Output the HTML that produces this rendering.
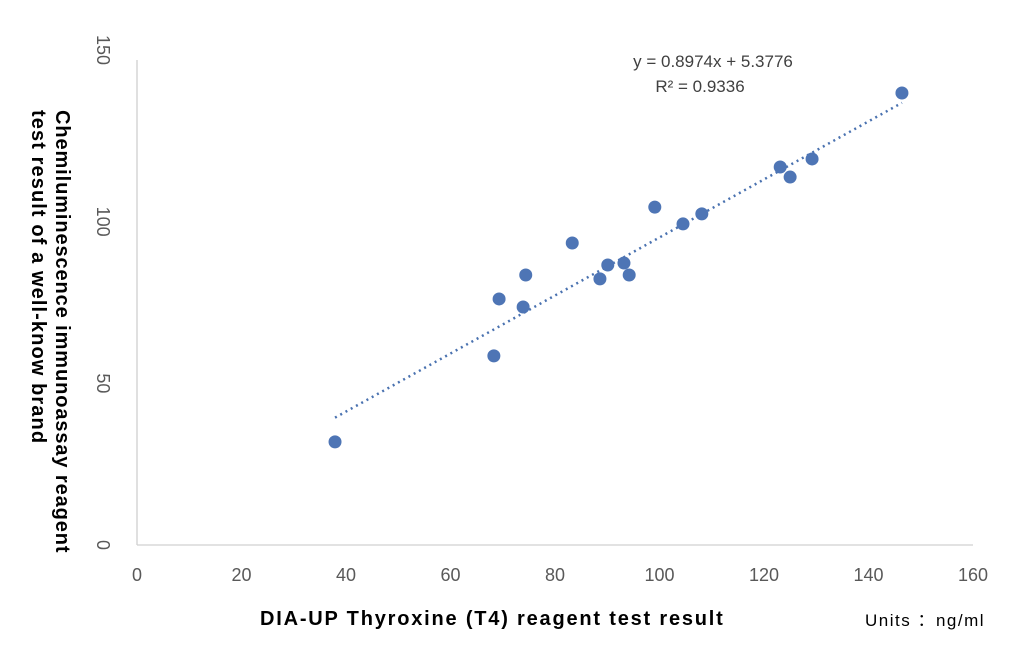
<!DOCTYPE html>
<html><head><meta charset="utf-8"><style>
body{margin:0;background:#fff;}
svg{display:block;font-family:"Liberation Sans",sans-serif;}
</style></head><body>
<svg id="chart" width="1020" height="651">
<line x1="137" y1="60" x2="137" y2="545" stroke="#d0d0d0" stroke-width="1.3"/>
<line x1="137" y1="545" x2="973" y2="545" stroke="#d0d0d0" stroke-width="1.3"/>
<g id="xticks"></g>
<g id="yticks"></g>
<path id="trend" fill="none" stroke="#4a72b0" stroke-width="2.5" stroke-dasharray="2,4"/>
<g id="points"></g>
<text x="713" y="67" text-anchor="middle" font-size="17" fill="#404040">y = 0.8974x + 5.3776</text>
<text x="700" y="92" text-anchor="middle" font-size="17" fill="#404040">R² = 0.9336</text>
<g font-weight="bold" font-size="20" fill="#000">
<text transform="translate(56,110) rotate(90)" letter-spacing="0.9">Chemiluminescence immunoassay reagent</text>
<text transform="translate(32,110) rotate(90)" letter-spacing="1.1">test result of a well-know brand</text>
</g>
<text x="260" y="625" font-size="20" font-weight="bold" fill="#000" letter-spacing="1.8">DIA-UP Thyroxine (T4) reagent test result</text>
<text x="865" y="626" font-size="17" fill="#000" letter-spacing="1.5">Units ：ng/ml</text>
</svg>
<script>
const xTicks=[0,20,40,60,80,100,120,140,160];
const yTicks=[0,50,100,150];
const xVals=[37.9,68.3,69.3,73.9,74.4,83.3,88.6,90.1,93.2,94.2,99.1,104.5,108.1,123.1,125.0,129.2,146.4];
const yVals=[31.9,58.5,76.1,73.6,83.5,93.4,82.3,86.6,87.2,83.5,104.5,99.3,102.4,116.9,113.8,119.4,139.8];
const slope=0.8974, intercept=5.3776;
const NS="http://www.w3.org/2000/svg";
const sx=v=>137+v*836/160;
const sy=v=>545-v*485/150;
const xg=document.getElementById('xticks');
xTicks.forEach(t=>{const e=document.createElementNS(NS,'text');


e.setAttribute('x',sx(t));e.setAttribute('y',581);e.setAttribute('text-anchor','middle');e.setAttribute('font-size','18');e.setAttribute('fill','#595959');e.textContent=t;xg.appendChild(e);});
const yg=document.getElementById('yticks');
yTicks.forEach(t=>{const e=document.createElementNS(NS,'text');


e.setAttribute('transform','translate(97,'+(sy(t)-(t===150?10:0))+') rotate(90)');e.setAttribute('text-anchor','middle');e.setAttribute('font-size','18');e.setAttribute('fill','#595959');e.textContent=t;yg.appendChild(e);});
const x0=Math.min(...xVals),x1=Math.max(...xVals);
document.getElementById('trend').setAttribute('d','M'+sx(x0)+','+sy(slope*x0+intercept)+'L'+sx(x1)+','+sy(slope*x1+intercept));
const pg=document.getElementById('points');
xVals.forEach((x,i)=>{const c=document.createElementNS(NS,'circle');


c.setAttribute('cx',sx(x));c.setAttribute('cy',sy(yVals[i]));c.setAttribute('r',6.5);c.setAttribute('fill','#4e75b5');pg.appendChild(c);});
</script>
</body></html>
